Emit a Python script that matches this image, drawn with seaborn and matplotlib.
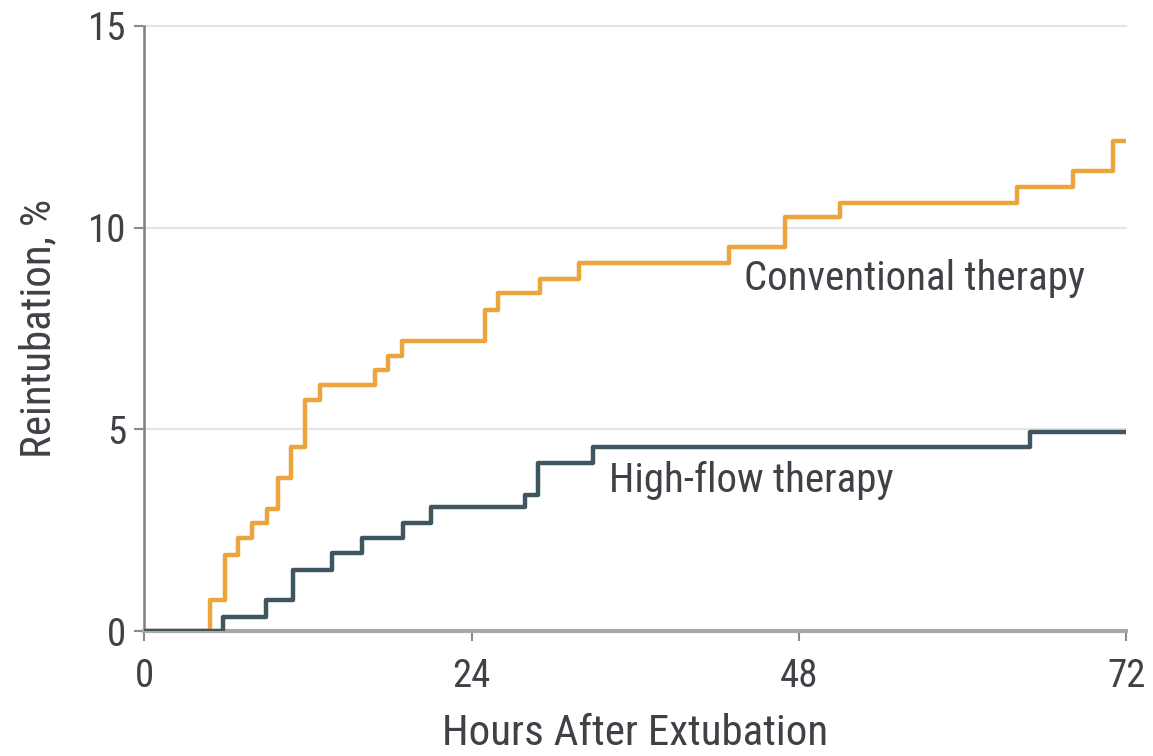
import matplotlib
matplotlib.use("Agg")
import matplotlib.pyplot as plt
import seaborn as sns
import pandas as pd

# Cumulative reintubation (%) at each step change, hours after extubation
conv_hours = [0, 4.8, 5.9, 6.9, 7.9, 9.0, 9.8, 10.8, 11.8, 12.9, 16.9, 17.9, 18.9,
              25.0, 25.9, 29.0, 31.9, 42.9, 47.0, 51.0, 64.0, 68.1, 71.0, 72]
conv_pct = [0, 0.77, 1.88, 2.30, 2.67, 3.04, 3.80, 4.56, 5.72, 6.09, 6.46, 6.83, 7.20,
            7.97, 8.37, 8.73, 9.12, 9.51, 10.25, 10.62, 11.00, 11.41, 12.15, 12.15]

high_hours = [0, 5.8, 8.9, 10.9, 13.8, 16.0, 19.0, 21.0, 27.9, 28.9, 32.9, 64.9, 72]
high_pct = [0, 0.35, 0.77, 1.51, 1.93, 2.30, 2.67, 3.07, 3.37, 4.18, 4.56, 4.93, 4.93]

groups = ["Conventional therapy", "High-flow therapy"]
x_ticks = [0, 24, 48, 72]
y_ticks = [0, 5, 10, 15]

df = pd.concat([
    pd.DataFrame({"hours": conv_hours, "pct": conv_pct, "group": groups[0]}),
    pd.DataFrame({"hours": high_hours, "pct": high_pct, "group": groups[1]}),
])

sns.set_style("white")
plt.rcParams["font.family"] = ["Roboto Condensed", "Liberation Sans Narrow",
                               "DejaVu Sans Condensed", "Open Sans", "DejaVu Sans"]

text_color = "#404047"

fig = plt.figure(figsize=(11.53, 7.56), dpi=100)
ax = fig.add_axes([0.125, 0.165, 0.852, 0.801])

palette = {groups[0]: "#EBA53C", groups[1]: "#3F5560"}
sns.lineplot(data=df, x="hours", y="pct", hue="group", palette=palette,
             estimator=None, drawstyle="steps-post", linewidth=3.2,
             legend=False, ax=ax, zorder=3)

ax.set_xlim(0, 72)
ax.set_ylim(0, 15)
ax.set_xticks(x_ticks)
ax.set_yticks(y_ticks)
ax.set_xticklabels([str(v) for v in x_ticks])
ax.set_yticklabels([str(v) for v in y_ticks])

for yv in y_ticks[1:]:
    ax.axhline(yv, color="#E4E4E4", lw=1.5, zorder=1, clip_on=False)

for side in ["top", "right"]:
    ax.spines[side].set_visible(False)
ax.spines["left"].set_color("#7F7F7F")
ax.spines["left"].set_linewidth(1.8)
ax.spines["bottom"].set_color("#A8A8A8")
ax.spines["bottom"].set_linewidth(3)

ax.tick_params(axis="both", which="both", direction="out", length=7, width=1.5,
               color="#8A8A8A", labelsize=28, labelcolor=text_color,
               bottom=True, left=True)
ax.tick_params(axis="x", pad=12)
ax.tick_params(axis="y", pad=6)

ax.set_xlabel("Hours After Extubation", fontsize=31, color=text_color, labelpad=13)
ax.set_ylabel("Reintubation, %", fontsize=31, color=text_color, labelpad=20)

ax.text(44.0, 8.75, "Conventional therapy", fontsize=29.5, color=text_color,
        va="center", ha="left")
ax.text(34.1, 3.74, "High-flow therapy", fontsize=29.5, color=text_color,
        va="center", ha="left")

fig.savefig("out.png", dpi=100)
